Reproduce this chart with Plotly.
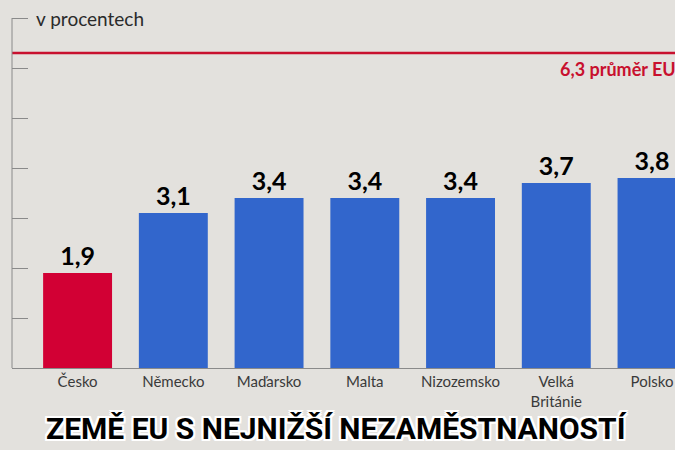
import plotly.graph_objects as go

# data
countries = ['Česko', 'Německo', 'Maďarsko', 'Malta', 'Nizozemsko', 'Velká<br>Británie', 'Polsko']
values = [1.9, 3.1, 3.4, 3.4, 3.4, 3.7, 3.8]
eu_avg = 6.3
tick_vals = [1, 2, 3, 4, 5, 6, 7]

bar_colors = ['#d20034'] + ['#3266cc'] * (len(values) - 1)
labels = [f'{v:.1f}'.replace('.', ',') for v in values]

fig = go.Figure()

fig.add_trace(go.Bar(
    x = list(range(len(countries))),
    y = values,
    width = 0.72,
    marker = dict(color = bar_colors, line = dict(width = 0)),
    text = labels,
    textposition = 'outside',
    cliponaxis = False,
    textfont = dict(family = 'Lato, DejaVu Sans', size = 25, color = 'black', weight = 'bold'),
))

# EU average line
fig.add_shape(type = 'line', xref = 'paper', yref = 'y',
              x0 = 0, x1 = 1, y0 = eu_avg, y1 = eu_avg,
              line = dict(color = '#c8102e', width = 2.5))
fig.add_annotation(xref = 'paper', yref = 'y', x = 0.824, y = eu_avg - 0.32,
                   xanchor = 'left', showarrow = False,
                   text = f'{eu_avg:.1f}'.replace('.', ',') + ' průměr EU',
                   font = dict(family = 'Lato, DejaVu Sans', size = 18, color = '#c8102e', weight = 'bold'))

# vertical axis line (stops at top tick)
fig.add_shape(type = 'line', xref = 'paper', yref = 'y',
              x0 = 0, x1 = 0, y0 = 0, y1 = tick_vals[-1],
              line = dict(color = '#8a8a8a', width = 1))

fig.add_annotation(xref = 'paper', yref = 'y', x = 0.033, y = tick_vals[-1],
                   xanchor = 'left', yanchor = 'middle', showarrow = False,
                   text = 'v procentech',
                   font = dict(family = 'Lato, DejaVu Sans', size = 19, color = '#2a2a2a'))

# title
fig.add_annotation(xref = 'paper', yref = 'paper', x = 0.49, y = -0.165,
                   xanchor = 'center', yanchor = 'middle', showarrow = False,
                   text = 'ZEMĚ EU S NEJNIŽŠÍ NEZAMĚSTNANOSTÍ',
                   font = dict(family = 'Roboto, DejaVu Sans',
                               size = 30, color = 'black', weight = 'bold',
                               shadow = '2px 0 0 white, -2px 0 0 white, 0 2px 0 white, 0 -2px 0 white, '
                                        '2px 2px 0 white, -2px -2px 0 white, 2px -2px 0 white, -2px 2px 0 white'))

fig.update_layout(
    width = 675,
    height = 450,
    margin = dict(l = 12, r = 0, t = 0, b = 82),
    paper_bgcolor = '#e3e1dd',
    plot_bgcolor = 'rgba(0,0,0,0)',
    showlegend = False,
    xaxis = dict(
        range = [-0.685, 6.24],
        tickvals = list(range(len(countries))),
        ticktext = countries,
        showline = True,
        linecolor = '#8a8a8a',
        linewidth = 1,
        ticks = '',
        showgrid = False,
        zeroline = False,
        tickfont = dict(family = 'Lato, DejaVu Sans', size = 15, color = '#3a3a3a'),
    ),
    yaxis = dict(
        range = [0, 7.36],
        tickvals = tick_vals,
        ticks = 'inside',
        ticklen = 16,
        tickcolor = '#8a8a8a',
        tickwidth = 1,
        showticklabels = False,
        showgrid = False,
        zeroline = False,
        showline = False,
    ),
)

fig.write_html('out.html', config = {'displayModeBar': False},
               post_script = "document.body.style.margin = '0';")
